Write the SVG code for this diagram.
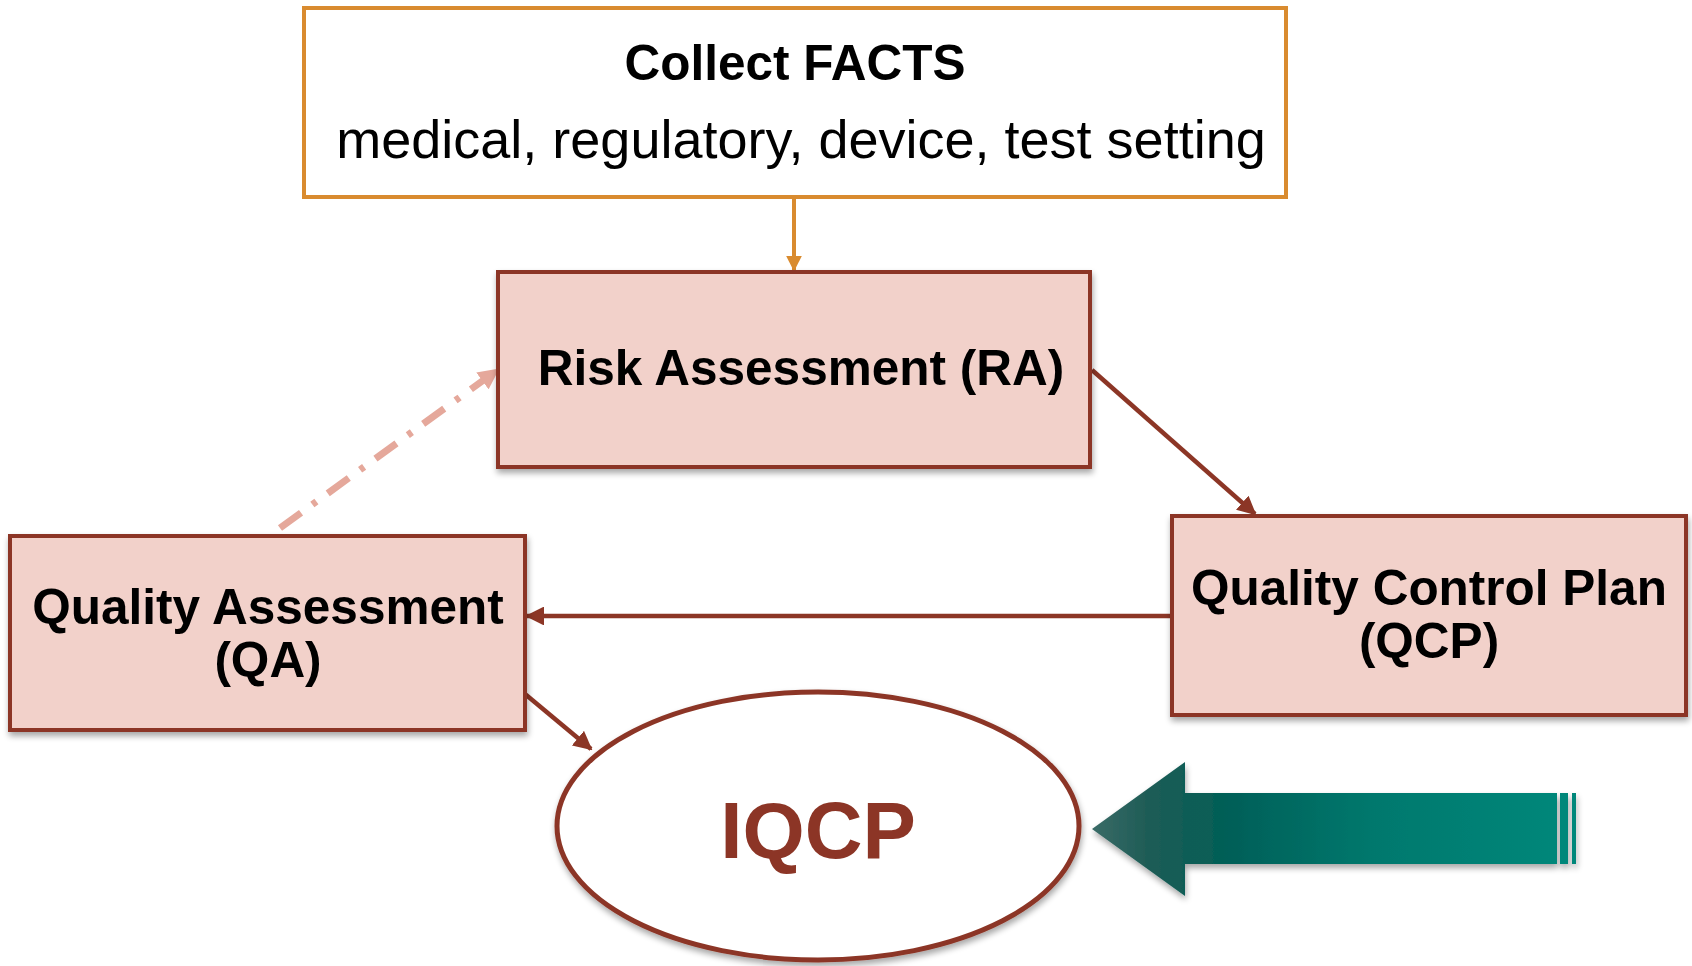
<svg xmlns="http://www.w3.org/2000/svg" width="1692" height="966" viewBox="0 0 1692 966">
<defs>
<style>
.box{fill:#F2D1CA;stroke:#8C3626;stroke-width:4}
.lbl{font-family:"Liberation Sans",Arial,sans-serif;font-weight:bold;font-size:49.5px;fill:#000;text-anchor:middle}
.con{stroke:#8C3626;stroke-width:4.5;fill:none}
</style>
<filter id="sh" x="-5%" y="-5%" width="110%" height="120%">
<feGaussianBlur in="SourceAlpha" stdDeviation="3"/>
<feOffset dx="1" dy="4" result="b"/>
<feComponentTransfer><feFuncA type="linear" slope="0.35"/></feComponentTransfer>
<feMerge><feMergeNode/><feMergeNode in="SourceGraphic"/></feMerge>
</filter>
<marker id="ah" viewBox="0 0 10 10" refX="9" refY="5" markerWidth="4.2" markerHeight="4.2" orient="auto" markerUnits="strokeWidth">
<path d="M0,0 L10,5 L0,10 z" fill="#8C3626"/>
</marker>
<marker id="ao" viewBox="0 0 10 10" refX="9" refY="5" markerWidth="4" markerHeight="4" orient="auto" markerUnits="strokeWidth">
<path d="M0,0 L10,5 L0,10 z" fill="#D98B2F"/>
</marker>
<marker id="ad" viewBox="0 0 10 10" refX="8" refY="5" markerWidth="3" markerHeight="3" orient="auto" markerUnits="strokeWidth">
<path d="M0,0 L10,5 L0,10 z" fill="#E5A89B"/>
</marker>
<linearGradient id="tg" x1="1092" y1="0" x2="1559" y2="0" gradientUnits="userSpaceOnUse">
<stop offset="0" stop-color="#3A6B67"/>
<stop offset="0.12" stop-color="#1E5C56"/>
<stop offset="0.28" stop-color="#035E57"/>
<stop offset="0.6" stop-color="#03786D"/>
<stop offset="1" stop-color="#04877A"/>
</linearGradient>
</defs>
<rect width="1692" height="966" fill="#fff"/>

<g id="connectors">
<line x1="794" y1="198" x2="794" y2="270" stroke="#D98B2F" stroke-width="4" marker-end="url(#ao)"/>
<line class="con" x1="1092" y1="370" x2="1255" y2="514" marker-end="url(#ah)"/>
<line class="con" x1="1172" y1="616" x2="527" y2="616" marker-end="url(#ah)"/>
<line class="con" x1="525" y1="694" x2="591" y2="749" marker-end="url(#ah)"/>
<line x1="280" y1="528" x2="496" y2="371" stroke="#E5A89B" stroke-width="7" stroke-dasharray="26 14 5 14" marker-end="url(#ad)"/>
</g>

<g id="facts">
<rect x="304" y="8" width="982" height="189" fill="#fff" stroke="#D98B2F" stroke-width="4"/>
<text class="lbl" x="795" y="80">Collect FACTS</text>
<text x="801" y="158" font-family="'Liberation Sans',Arial,sans-serif" font-size="54" text-anchor="middle" fill="#000">medical, regulatory, device, test setting</text>
</g>

<g id="ra" filter="url(#sh)">
<rect class="box" x="498" y="272" width="592" height="195"/>
<text class="lbl" x="801" y="385">Risk Assessment (RA)</text>
</g>

<g id="qcp" filter="url(#sh)">
<rect class="box" x="1172" y="516" width="514" height="199"/>
<text class="lbl" x="1429" y="605">Quality Control Plan</text>
<text class="lbl" x="1429" y="658">(QCP)</text>
</g>

<g id="qa" filter="url(#sh)">
<rect class="box" x="10" y="536" width="515" height="194"/>
<text class="lbl" x="268" y="624">Quality Assessment</text>
<text class="lbl" x="268" y="677">(QA)</text>
</g>

<g id="iqcp" filter="url(#sh)">
<ellipse cx="818" cy="826" rx="261" ry="134" fill="#fff" stroke="#8C3626" stroke-width="5"/>
<text x="818" y="858" font-family="'Liberation Sans',Arial,sans-serif" font-weight="bold" font-size="80" text-anchor="middle" fill="#8C3626">IQCP</text>
</g>

<g id="teal-arrow" filter="url(#sh)">
<path d="M1092,829 L1185,762 L1185,793 L1557,793 L1557,864 L1185,864 L1185,896 Z" fill="url(#tg)"/>
<rect x="1560" y="793" width="8" height="71" fill="#04877A"/>
<rect x="1572" y="793" width="4" height="71" fill="#04877A"/>
</g>
</svg>
